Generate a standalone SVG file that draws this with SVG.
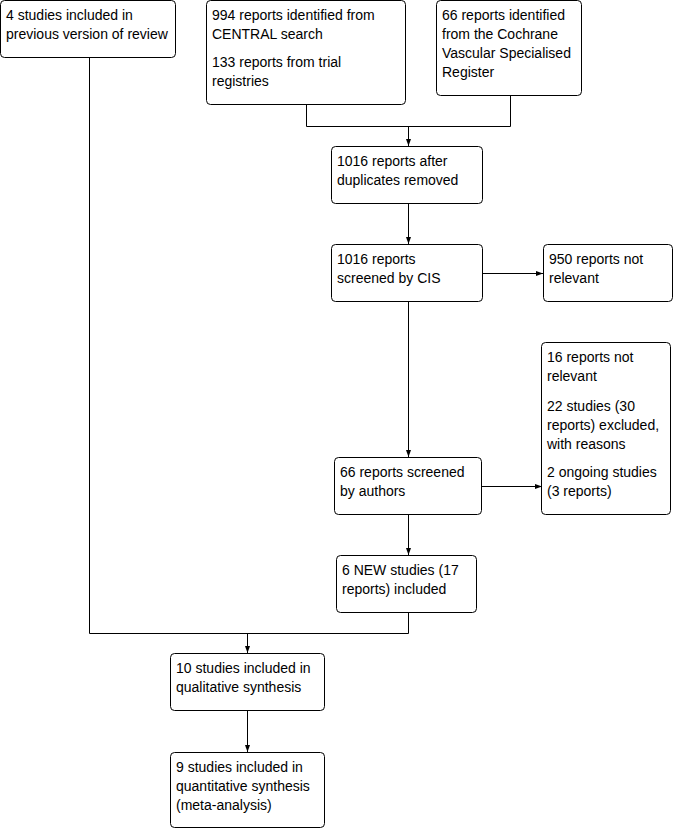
<svg xmlns="http://www.w3.org/2000/svg" width="675" height="828" viewBox="0 0 675 828">
<defs>
<marker id="ah" markerWidth="8" markerHeight="8" refX="7" refY="4" orient="auto" markerUnits="userSpaceOnUse">
<path d="M0,1.5 L7,4 L0,6.5 Z" fill="#000"/>
</marker>
<style>
.box{fill:#fff;stroke:#000;stroke-width:1}
.t{font-family:"Liberation Sans",Arial,sans-serif;font-size:14px;fill:#000}
.c{fill:none;stroke:#000;stroke-width:1}
</style>
</defs>
<rect width="675" height="828" fill="#fff"/>
<g id="connectors">
<path class="c" d="M306.5,104 V126.5 H510.5 V95"/>
<path class="c" d="M408.5,126.5 V146" marker-end="url(#ah)"/>
<path class="c" d="M408.5,203 V244" marker-end="url(#ah)"/>
<path class="c" d="M483,273.5 H543" marker-end="url(#ah)"/>
<path class="c" d="M408.5,301 V457" marker-end="url(#ah)"/>
<path class="c" d="M481,486.5 H542" marker-end="url(#ah)"/>
<path class="c" d="M408.5,514 V555" marker-end="url(#ah)"/>
<path class="c" d="M408.5,612 V633.5 H89.5 V57"/>
<path class="c" d="M247.5,633.5 V653" marker-end="url(#ah)"/>
<path class="c" d="M247.5,710 V752" marker-end="url(#ah)"/>
</g>
<g id="n1"><rect class="box" x="0.5" y="0.5" width="175" height="57" rx="4"/>
<text class="t" x="6" y="20">4 studies included in</text><text class="t" x="6" y="39">previous version of review</text></g>
<g id="n2"><rect class="box" x="206.5" y="0.5" width="199" height="104" rx="4"/>
<text class="t" x="212" y="20">994 reports identified from</text><text class="t" x="212" y="39">CENTRAL search</text>
<text class="t" x="212" y="67">133 reports from trial</text><text class="t" x="212" y="86">registries</text></g>
<g id="n3"><rect class="box" x="436.5" y="0.5" width="145" height="95" rx="4"/>
<text class="t" x="442" y="20">66 reports identified</text><text class="t" x="442" y="39">from the Cochrane</text>
<text class="t" x="442" y="58">Vascular Specialised</text><text class="t" x="442" y="77">Register</text></g>
<g id="n4"><rect class="box" x="331.5" y="146.5" width="151" height="57" rx="4"/>
<text class="t" x="337" y="166">1016 reports after</text><text class="t" x="337" y="185">duplicates removed</text></g>
<g id="n5"><rect class="box" x="331.5" y="244.5" width="151" height="57" rx="4"/>
<text class="t" x="337" y="264">1016 reports</text><text class="t" x="337" y="283">screened by CIS</text></g>
<g id="n6"><rect class="box" x="543.5" y="244.5" width="129" height="57" rx="4"/>
<text class="t" x="549" y="264">950 reports not</text><text class="t" x="549" y="283">relevant</text></g>
<g id="n7"><rect class="box" x="541.5" y="342.5" width="129" height="172" rx="4"/>
<text class="t" x="547" y="362">16 reports not</text><text class="t" x="547" y="381">relevant</text>
<text class="t" x="547" y="411">22 studies (30</text><text class="t" x="547" y="430">reports) excluded,</text><text class="t" x="547" y="449">with reasons</text>
<text class="t" x="547" y="477">2 ongoing studies</text><text class="t" x="547" y="496">(3 reports)</text></g>
<g id="n8"><rect class="box" x="334.5" y="457.5" width="147" height="57" rx="4"/>
<text class="t" x="340" y="477">66 reports screened</text><text class="t" x="340" y="496">by authors</text></g>
<g id="n9"><rect class="box" x="336.5" y="555.5" width="140" height="57" rx="4"/>
<text class="t" x="342" y="575">6 NEW studies (17</text><text class="t" x="342" y="594">reports) included</text></g>
<g id="n10"><rect class="box" x="170.5" y="653.5" width="154" height="57" rx="4"/>
<text class="t" x="176" y="673">10 studies included in</text><text class="t" x="176" y="692">qualitative synthesis</text></g>
<g id="n11"><rect class="box" x="170.5" y="752.5" width="154" height="75" rx="4"/>
<text class="t" x="176" y="772">9 studies included in</text><text class="t" x="176" y="791">quantitative synthesis</text><text class="t" x="176" y="810">(meta-analysis)</text></g>
</svg>
